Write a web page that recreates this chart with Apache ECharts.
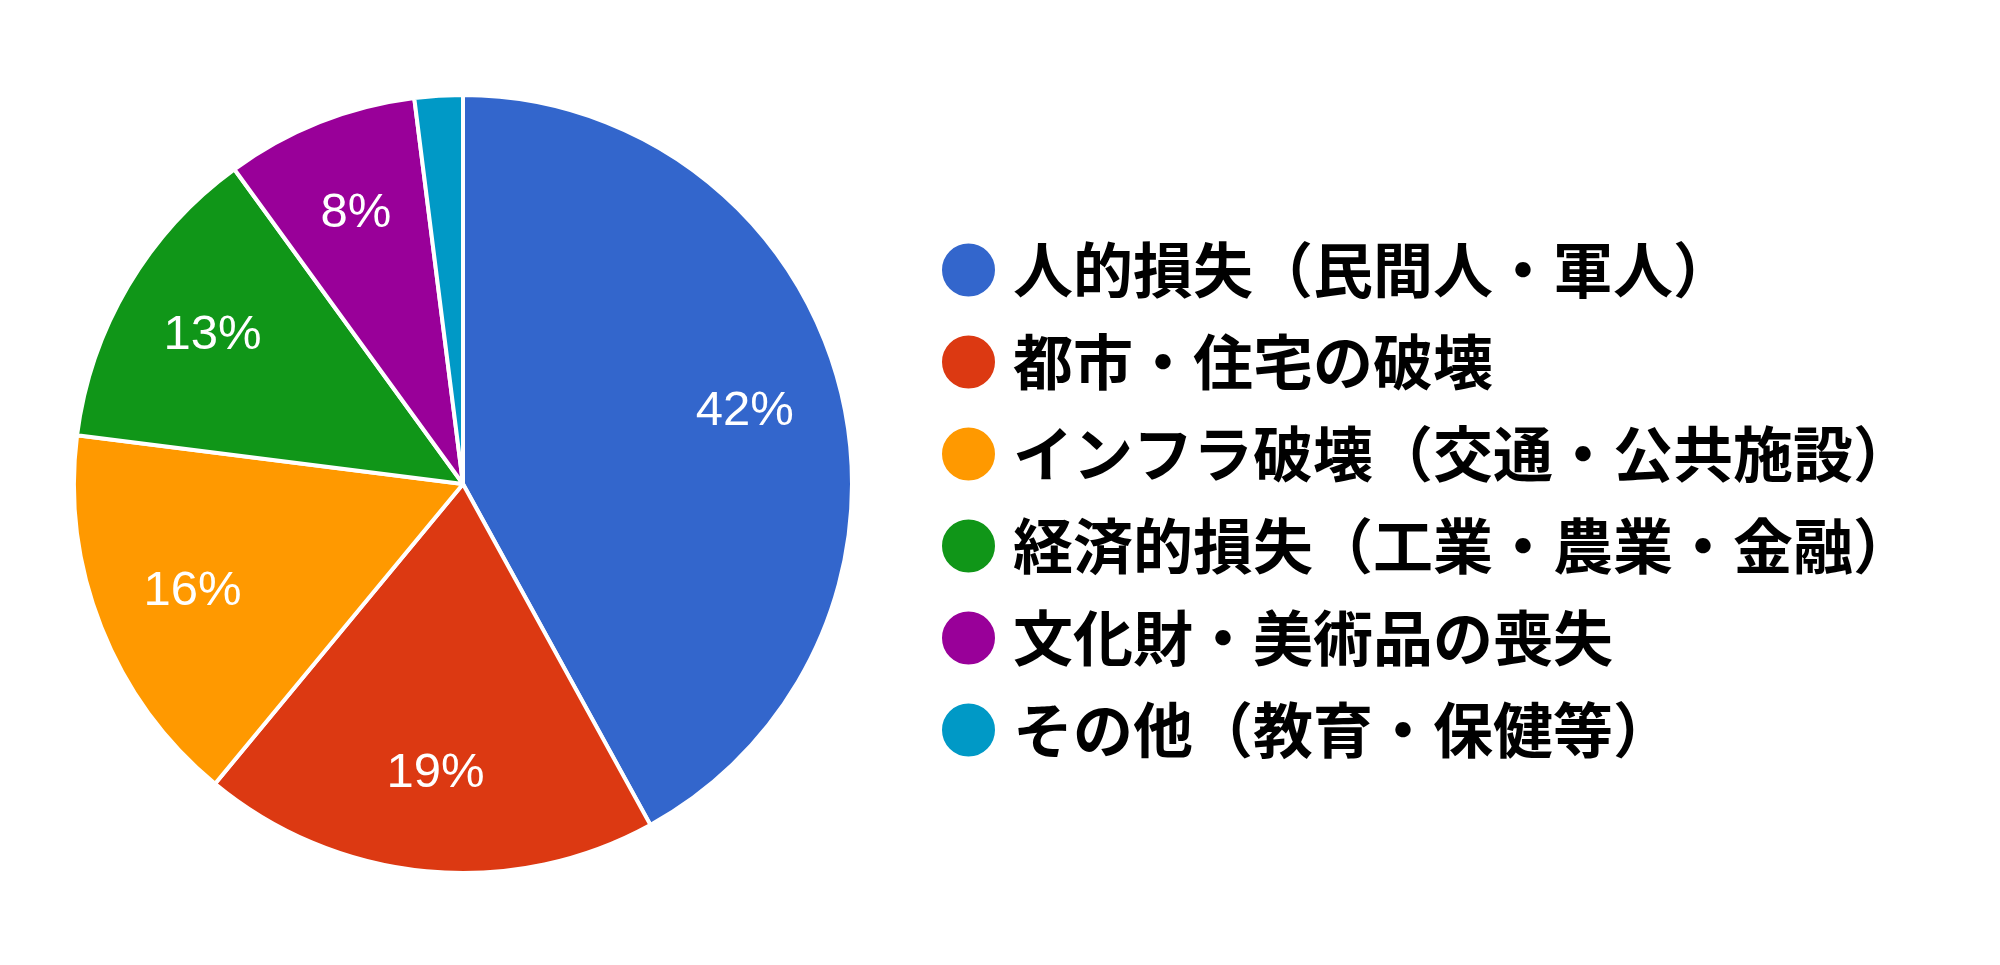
<!DOCTYPE html>
<html>
<head>
<meta charset="utf-8">
<script src="https://cdn.jsdelivr.net/npm/echarts@6/dist/echarts.min.js"></script>
<style>
  html, body { margin: 0; padding: 0; background: #ffffff; }
  #chart { width: 2000px; height: 965px; }
</style>
</head>
<body>
<div id="chart"></div>
<script>
// Categories and shares (%)
const categories = [
  '人的損失（民間人・軍人）',
  '都市・住宅の破壊',
  'インフラ破壊（交通・公共施設）',
  '経済的損失（工業・農業・金融）',
  '文化財・美術品の喪失',
  'その他（教育・保健等）'
];
const shares = [42, 19, 16, 13, 8, 2];
const colors = ['#3366cc', '#dc3912', '#ff9900', '#109618', '#990099', '#0099c6'];

const pieData = categories.map((name, i) => ({ name: name, value: shares[i] }));

const option = {
  color: colors,
  animation: false,
  legend: {
    data: categories,
    orient: 'vertical',
    left: 935,
    top: 235,
    icon: 'circle',
    itemWidth: 55,
    itemHeight: 55,
    itemGap: 32,
    selectedMode: false,
    textStyle: {
      fontFamily: 'Noto Sans CJK JP',
      fontWeight: 'bold',
      fontSize: 60,
      lineHeight: 55,
      color: '#000000',
      padding: [0, 0, 0, 12]
    }
  },
  series: [
    {
      // filled slices
      name: 'share',
      type: 'pie',
      center: [463, 484],
      radius: [0, 389],
      startAngle: 90,
      clockwise: true,
      silent: true,
      itemStyle: { borderColor: '#ffffff', borderWidth: 4 },
      label: { show: false },
      labelLine: { show: false },
      data: pieData
    },
    {
      // transparent ring used only to place the percent labels further out
      name: 'labels',
      type: 'pie',
      center: [463, 484],
      radius: [187, 389],
      startAngle: 90,
      clockwise: true,
      silent: true,
      itemStyle: { color: 'rgba(0,0,0,0)', borderWidth: 0 },
      label: {
        show: true,
        position: 'inside',
        fontFamily: 'Liberation Sans',
        fontSize: 49,
        color: '#ffffff',
        formatter: function (p) {
          return p.value < 5 ? '' : p.value + '%';
        }
      },
      labelLine: { show: false },
      data: pieData
    }
  ]
};

const chart = echarts.init(document.getElementById('chart'));
chart.setOption(option);
</script>
</body>
</html>
